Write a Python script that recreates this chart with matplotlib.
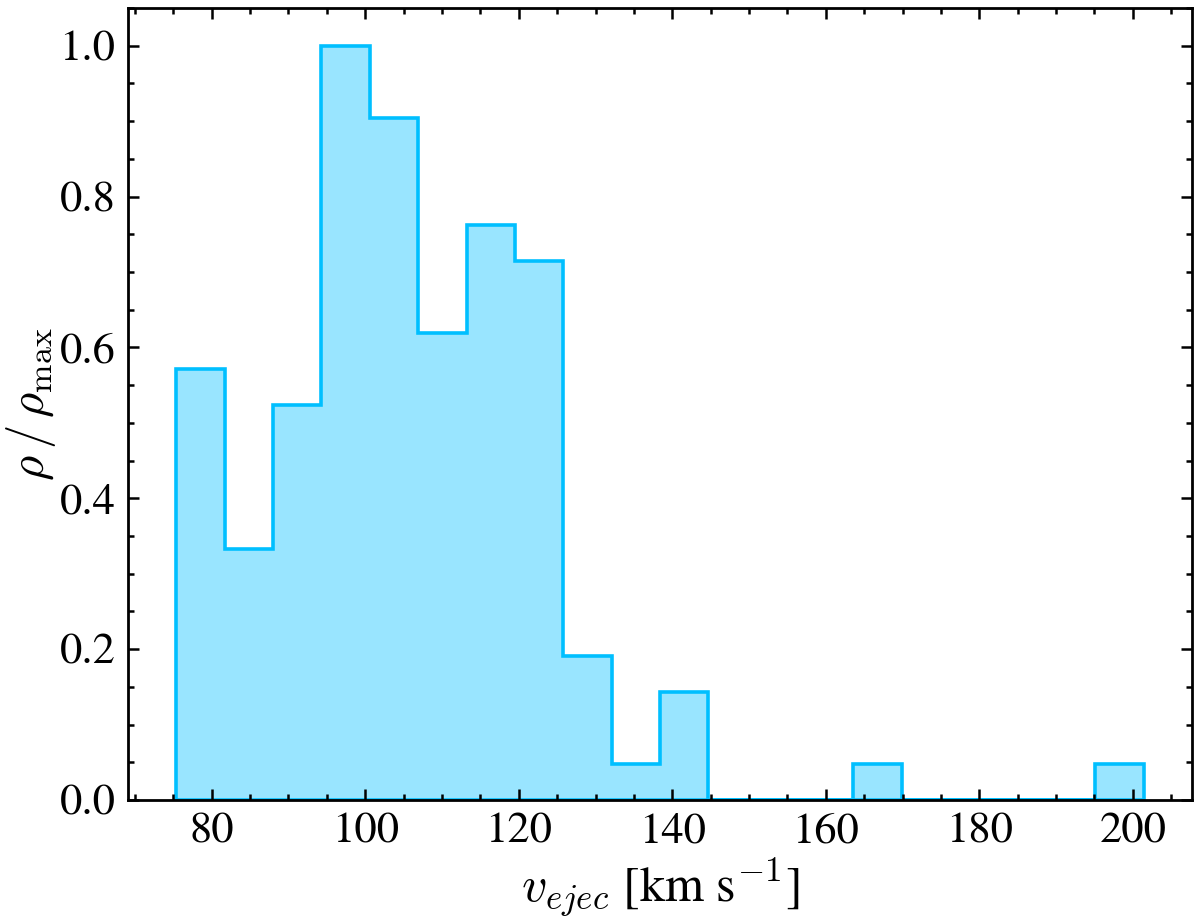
import matplotlib
matplotlib.use('Agg')
import matplotlib.pyplot as plt
import numpy as np
from matplotlib.ticker import MultipleLocator

# histogram of ejection velocities, normalised to the tallest bin
bin_lo = 75.4
bin_hi = 201.4
n_bins = 20
counts = [12, 7, 11, 21, 19, 13, 16, 15, 4, 1, 3, 0, 0, 0, 1, 0, 0, 0, 0, 1]

plt.rcParams['font.family'] = 'serif'
plt.rcParams['font.serif'] = ['STIXGeneral', 'Liberation Serif', 'DejaVu Serif']
plt.rcParams['mathtext.fontset'] = 'cm'

edges = np.linspace(bin_lo, bin_hi, n_bins + 1)
rho = np.array(counts) / max(counts)

fig = plt.figure(figsize=(12, 9.19), dpi=100)
ax = fig.add_axes([0.1067, 0.1295, 0.8866, 0.8618])

ax.hist(edges[:-1], bins=edges, weights=rho, histtype='stepfilled',
        facecolor=(0.0, 0.749, 1.0, 0.4), edgecolor='#00bfff', linewidth=2.6)

ax.set_xlim(69.1, 207.7)
ax.set_ylim(0, 1.05)
ax.xaxis.set_major_locator(MultipleLocator(20))
ax.xaxis.set_minor_locator(MultipleLocator(5))
ax.yaxis.set_major_locator(MultipleLocator(0.2))
ax.yaxis.set_minor_locator(MultipleLocator(0.05))
ax.yaxis.set_major_formatter(matplotlib.ticker.FormatStrFormatter('%.1f'))

ax.tick_params(which='both', direction='in', top=True, right=True, labelsize=32, width=1.8)
ax.tick_params(which='major', length=8, pad=9)
ax.tick_params(which='minor', length=4.5)
for s in ax.spines.values():
    s.set_linewidth(2.0)

ax.set_xlabel(r'$v_{ejec}$ [km s$^{-1}$]', fontsize=36, labelpad=4)
ax.set_ylabel(r'$\rho\,/\,\rho_{\rm max}$', fontsize=35, labelpad=1)

fig.savefig('out.png', dpi=100)
